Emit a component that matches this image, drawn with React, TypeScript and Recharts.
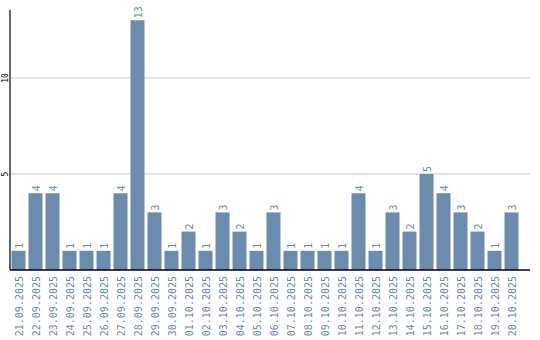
import { BarChart, Bar, XAxis, YAxis, CartesianGrid, LabelList } from "recharts";

const dates = [
  "21.09.2025", "22.09.2025", "23.09.2025", "24.09.2025", "25.09.2025",
  "26.09.2025", "27.09.2025", "28.09.2025", "29.09.2025", "30.09.2025",
  "01.10.2025", "02.10.2025", "03.10.2025", "04.10.2025", "05.10.2025",
  "06.10.2025", "07.10.2025", "08.10.2025", "09.10.2025", "10.10.2025",
  "11.10.2025", "12.10.2025", "13.10.2025", "14.10.2025", "15.10.2025",
  "16.10.2025", "17.10.2025", "18.10.2025", "19.10.2025", "20.10.2025",
];
const counts = [1, 4, 4, 1, 1, 1, 4, 13, 3, 1, 2, 1, 3, 2, 1, 3, 1, 1, 1, 1, 4, 1, 3, 2, 5, 4, 3, 2, 1, 3];
const yTicks = [5, 10];

const data = dates.map((d, i) => ({ date: d, count: counts[i] }));

const BLUE = "#6b8cae";
const MONO = "'DejaVu Sans Mono', monospace";

const XTick = ({ x, payload }: any) => (
  <text
    transform={`translate(${x + 4},276) rotate(-90)`}
    textAnchor="end"
    fontSize={10}
    fontFamily={MONO}
    fill={BLUE}
  >
    {payload.value}
  </text>
);

const YTick = ({ y, payload }: any) => (
  <text
    transform={`translate(8,${y}) rotate(-90)`}
    textAnchor="middle"
    fontSize={8}
    fontFamily={MONO}
    fill="#000"
  >
    {payload.value}
  </text>
);

const BarLabel = ({ x, y, width, value }: any) => (
  <text
    transform={`translate(${x + width / 2 + 4},${y - 2}) rotate(-90)`}
    textAnchor="start"
    fontSize={10}
    fontFamily={MONO}
    fill={BLUE}
  >
    {value}
  </text>
);

export default function App() {
  return (
    <div style={{ position: "absolute", left: 0, top: 0, background: "#fff" }}>
      <BarChart
        width={540}
        height={340}
        data={data}
        margin={{ top: 10, right: 10, bottom: 0, left: 0 }}
        barCategoryGap={1.5}
      >
        <CartesianGrid
          horizontal
          vertical={false}
          stroke="#c8c8c8"
          strokeWidth={1}
          horizontalValues={yTicks}
        />
        <XAxis
          dataKey="date"
          interval={0}
          tickLine={false}
          axisLine={{ stroke: "#000", strokeWidth: 1.5 }}
          height={70}
          tick={<XTick />}
          padding={{ left: 0, right: 10 }}
        />
        <YAxis
          domain={[0, 13.54]}
          ticks={yTicks}
          width={10}
          tickLine={false}
          axisLine={{ stroke: "#000", strokeWidth: 1.2 }}
          tick={<YTick />}
          allowDataOverflow
        />
        <Bar dataKey="count" fill={BLUE} isAnimationActive={false}>
          <LabelList dataKey="count" content={<BarLabel />} />
        </Bar>
      </BarChart>
    </div>
  );
}
